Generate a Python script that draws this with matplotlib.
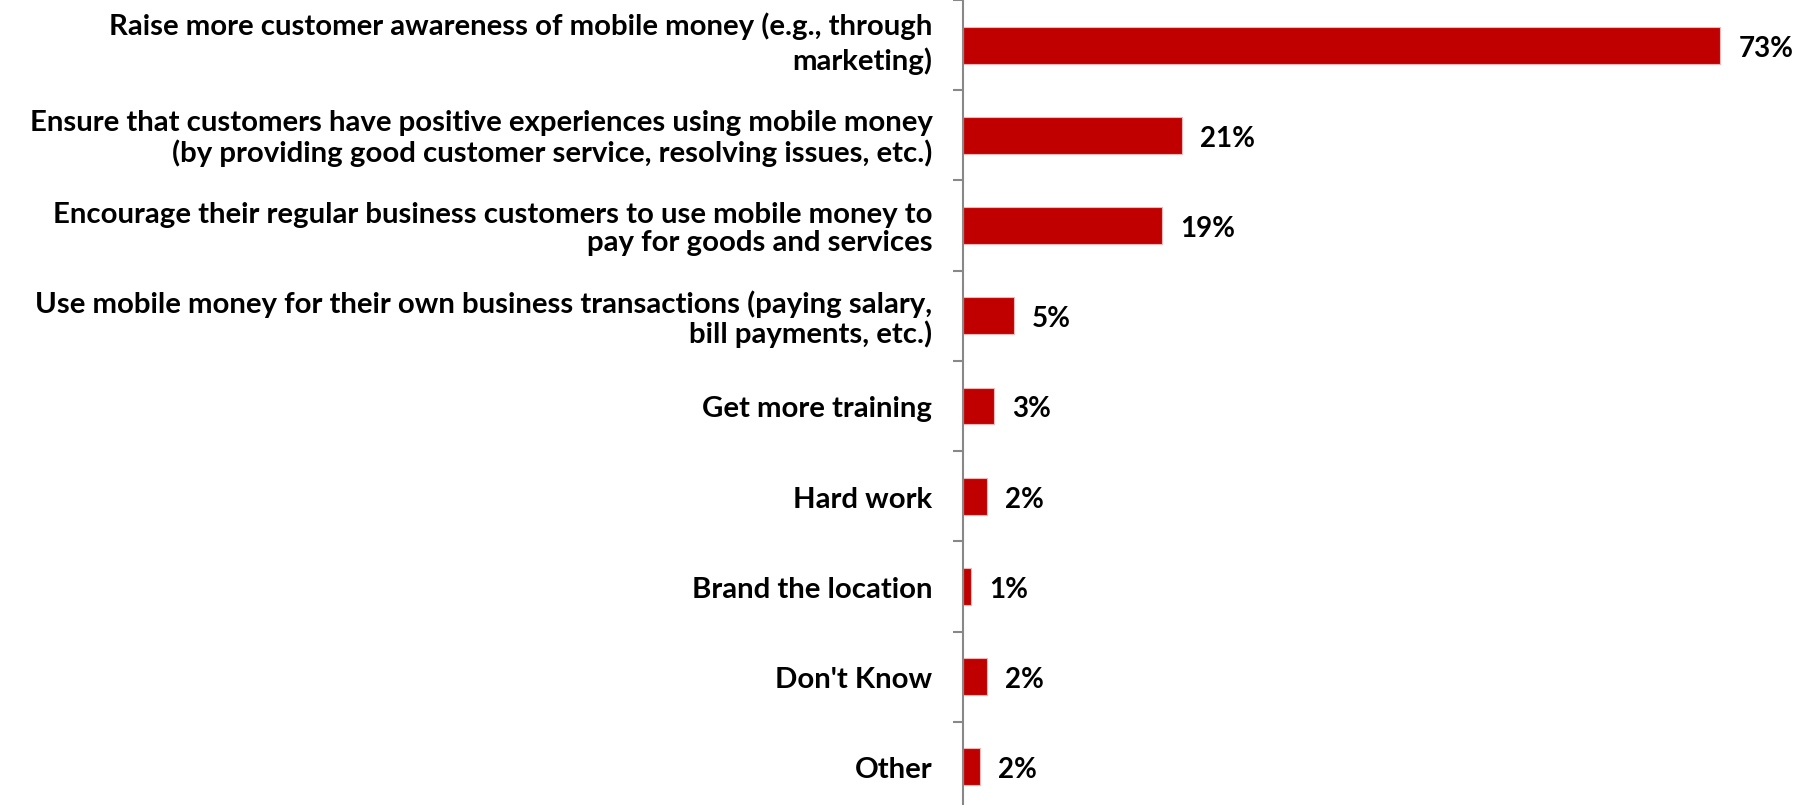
import numpy as np
import matplotlib
matplotlib.use("Agg")
import matplotlib.pyplot as plt
import matplotlib.transforms as mtransforms

categories = [
    "Raise more customer awareness of mobile money (e.g., through\nmarketing)",
    "Ensure that customers have positive experiences using mobile money\n(by providing good customer service, resolving issues, etc.)",
    "Encourage their regular business customers to use mobile money to\npay for goods and services",
    "Use mobile money for their own business transactions (paying salary,\nbill payments, etc.)",
    "Get more training",
    "Hard work",
    "Brand the location",
    "Don't Know",
    "Other",
]
values = [73.0, 21.1, 19.2, 4.9, 3.0, 2.3, 0.8, 2.3, 1.6]

plt.rcParams["font.family"] = ["Lato", "DejaVu Sans"]
plt.rcParams["font.weight"] = "bold"

fig = plt.figure(figsize=(18.08, 8.05), dpi=100)
ax = fig.add_axes([963 / 1808, -7 / 805, 830 / 1808, 812 / 805])

y = np.arange(len(categories))
bars = ax.barh(y, values, height=0.41, color="#C00000", edgecolor="#F2B8B8", linewidth=0.8)

for bar, v in zip(bars, values):
    ax.annotate(f"{v:.0f}%", xy=(bar.get_width(), bar.get_y() + bar.get_height() / 2),
                xytext=(13, -2.5), textcoords="offset points",
                ha="left", va="center", fontsize=20, fontweight="bold", color="black")

# category labels, right aligned against the axis
trans = mtransforms.blended_transform_factory(ax.transAxes, ax.transData)
for i, label in enumerate(categories):
    dy = 1.0 if i == 0 else -2.5
    ls = 1.3 if i == 0 else 1.14
    ax.annotate(label, xy=(0, i), xycoords=trans, xytext=(-22, dy), textcoords="offset points",
                ha="right", va="center", multialignment="right", linespacing=ls,
                fontsize=21.2, fontweight="bold", color="black", annotation_clip=False)

ax.set_xlim(0, 80)
ax.set_ylim(len(categories) - 0.5, -0.5)

ax.set_yticks([])
ax.set_yticks(np.arange(-0.5, len(categories), 1), minor=True)
ax.tick_params(axis="y", which="minor", length=7, width=1.5, color="#888888", direction="out")
ax.set_xticks([])

for side in ["top", "right", "bottom"]:
    ax.spines[side].set_visible(False)
ax.spines["left"].set_color("#888888")
ax.spines["left"].set_linewidth(1.5)

fig.savefig("out.png", dpi=100)
